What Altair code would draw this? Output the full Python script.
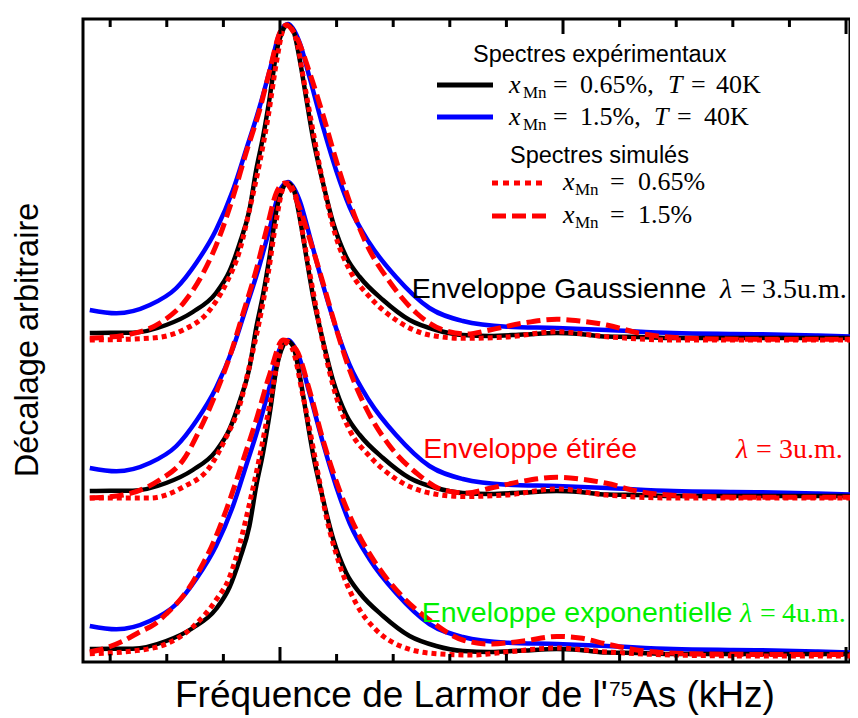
import altair as alt
import pandas as pd

# ---------------- data ----------------
# x: frequency (arbitrary kHz units, minor tick every 10), s: normalised signal
BLACK_X = [-33.6, -30.0, -26.0, -20.1, -15.4, -11.3, -8.9, -7.1, -5.4, -4.2, -3.0, -1.8, -0.65, 0.53, 1.24, 2.3, 3.5, 4.6, 5.8, 7.6, 9.4, 11.7, 14.1, 18.2, 22.9, 27.6, 32.3, 37.1, 43.0, 48.9, 53.0, 57.7, 63.6, 69.5, 78.0, 87.2, 95.0, 102.1]
BLACK_S = [0.07, 0.073, 0.073, 0.15, 0.28, 0.47, 0.69, 0.97, 1.30, 1.70, 2.03, 2.43, 2.87, 3.10, 3.15, 3.10, 2.80, 2.43, 2.03, 1.57, 1.17, 0.83, 0.63, 0.40, 0.20, 0.10, 0.05, 0.04, 0.055, 0.07, 0.06, 0.035, 0.03, 0.02, 0.02, 0.02, 0.02, 0.02]

BLUE_X = [-33.6, -28.9, -23.0, -18.3, -14.8, -11.3, -8.3, -6.0, -3.6, -1.8, -0.05, 1.41, 3.5, 5.2, 7.6, 9.9, 12.3, 15.8, 20.5, 26.4, 32.3, 40.1, 48.9, 57.7, 69.5, 80.0, 87.2, 95.0, 102.1]
BLUE_S = [0.30, 0.267, 0.35, 0.52, 0.77, 1.10, 1.50, 1.90, 2.33, 2.70, 3.07, 3.16, 2.97, 2.63, 2.13, 1.70, 1.33, 0.97, 0.63, 0.32, 0.19, 0.133, 0.12, 0.10, 0.07, 0.06, 0.055, 0.045, 0.033]

DASH_TOP_X = [-33.6, -27.2, -21.3, -17.1, -13.6, -10.7, -8.3, -6.0, -3.6, -1.8, -0.05, 1.1, 2.9, 5.2, 7.6, 9.9, 12.3, 15.2, 19.4, 24.1, 28.8, 33.0, 37.1, 43.0, 48.9, 53.0, 57.7, 63.6, 72.4, 85.0, 102.1]
DASH_TOP_S = [0.017, 0.05, 0.167, 0.367, 0.667, 1.03, 1.43, 1.87, 2.30, 2.70, 3.07, 3.15, 3.03, 2.68, 2.25, 1.80, 1.38, 0.97, 0.58, 0.27, 0.10, 0.06, 0.10, 0.17, 0.207, 0.19, 0.15, 0.067, 0.017, 0.007, 0.007]

DASH_MID_X = [-33.6, -27.7, -21.3, -17.1, -14.2, -11.3, -8.9, -6.5, -4.2, -2.4, -0.65, 0.83, 2.9, 5.2, 7.6, 9.9, 12.3, 15.2, 19.4, 24.1, 28.8, 33.0, 37.1, 43.0, 48.9, 53.0, 57.7, 63.6, 72.4, 85.0, 102.1]
DASH_MID_S = [0.0, 0.03, 0.18, 0.38, 0.68, 1.05, 1.41, 1.85, 2.28, 2.68, 3.05, 3.15, 2.98, 2.60, 2.15, 1.70, 1.28, 0.90, 0.52, 0.25, 0.08, 0.05, 0.097, 0.17, 0.207, 0.19, 0.147, 0.063, 0.02, 0.007, 0.007]

DASH_BOT_X = [-33.6, -31.3, -27.7, -24.8, -22.1, -20.1, -17.7, -15.95, -14.2, -11.5, -9.5, -6.5, -4.2, -1.8, 0.53, 2.9, 5.2, 7.6, 10.5, 13.5, 17.0, 21.7, 26.4, 32.3, 37.1, 43.0, 48.9, 53.0, 57.7, 63.6, 72.4, 85.0, 102.1]
DASH_BOT_S = [0.04, 0.07, 0.15, 0.24, 0.32, 0.42, 0.56, 0.69, 0.86, 1.17, 1.46, 1.96, 2.36, 2.82, 3.16, 3.06, 2.66, 2.16, 1.66, 1.26, 0.92, 0.59, 0.36, 0.16, 0.12, 0.15, 0.196, 0.18, 0.12, 0.056, 0.023, 0.016, 0.016]

DOT_TOP_X = [-33.6, -23.0, -17.1, -12.4, -9.5, -7.1, -5.4, -3.6, -2.1, -0.65, 0.53, 1.24, 2.9, 4.1, 5.8, 7.6, 9.9, 12.3, 15.8, 20.5, 26.4, 32.3, 40.0, 48.9, 57.7, 69.5, 85.0, 102.1]
DOT_TOP_S = [0.0, 0.017, 0.10, 0.30, 0.567, 0.90, 1.30, 1.77, 2.23, 2.77, 3.10, 3.15, 3.00, 2.63, 2.10, 1.57, 1.03, 0.70, 0.433, 0.20, 0.05, 0.017, 0.03, 0.083, 0.033, 0.0, 0.0, 0.0]
DOT_MID_S = [0.0, 0.0, 0.11, 0.31, 0.61, 0.93, 1.32, 1.78, 2.24, 2.78, 3.10, 3.15, 3.00, 2.62, 2.08, 1.55, 1.02, 0.68, 0.42, 0.19, 0.05, 0.015, 0.03, 0.09, 0.03, 0.0, 0.0, 0.0]

DOT_BOT_X = [-33.6, -26.0, -20.1, -15.4, -11.3, -8.9, -7.1, -5.4, -3.6, -1.8, -0.35, 0.53, 2.0, 4.1, 6.4, 8.2, 10.5, 13.5, 17.0, 21.7, 27.6, 34.0, 40.0, 48.9, 57.7, 69.5, 85.0, 102.1]
DOT_BOT_S = [0.023, 0.05, 0.12, 0.29, 0.56, 0.79, 1.12, 1.52, 1.99, 2.52, 2.96, 3.14, 3.09, 2.59, 1.92, 1.39, 0.92, 0.52, 0.26, 0.09, 0.023, 0.01, 0.04, 0.08, 0.04, 0.01, 0.0, 0.0]

GROUPS = ["top", "mid", "bot"]
OFFSETS = [3.22, 1.64, 0.06]

TICKS = [-30, -20, -10, 0, 10, 20, 30, 40, 50, 60, 70, 80, 90, 100]
MAJOR_TICKS = [0, 50, 100]

X_DOMAIN = [-34.8, 100.7]
Y_DOMAIN = [0, 6.43]

# ---------------- build table ----------------
rows = []
def add(series, group, off, xs, ss):
    for i, (xv, sv) in enumerate(zip(xs, ss)):
        rows.append({"series": series, "group": group, "i": i, "x": xv, "y": off + sv})

dash_sets = [(DASH_TOP_X, DASH_TOP_S), (DASH_MID_X, DASH_MID_S), (DASH_BOT_X, DASH_BOT_S)]
dot_sets = [(DOT_TOP_X, DOT_TOP_S), (DOT_TOP_X, DOT_MID_S), (DOT_BOT_X, DOT_BOT_S)]
for g, off, dset, oset in zip(GROUPS, OFFSETS, dash_sets, dot_sets):
    add("blue", g, off, BLUE_X, BLUE_S)
    add("black", g, off, BLACK_X, BLACK_S)
    add("dash", g, off, *dset)
    add("dot", g, off, *oset)
df = pd.DataFrame(rows)

tick_df = pd.DataFrame({"x": TICKS, "major": [t in MAJOR_TICKS for t in TICKS]})

X = alt.X("x:Q", scale=alt.Scale(domain=X_DOMAIN, nice=False, zero=False), axis=None)
Y = alt.Y("y:Q", scale=alt.Scale(domain=Y_DOMAIN, nice=False, zero=False), axis=None)

W, H = 767, 643

def line_layer(series, color, width, dash=None):
    kw = dict(color=color, strokeWidth=width, interpolate="monotone", clip=True, strokeCap="butt")
    if dash:
        kw["strokeDash"] = dash
    return (alt.Chart(df).transform_filter(alt.datum.series == series)
            .mark_line(**kw)
            .encode(x=X, y=Y, detail="group:N", order="i:Q"))

layers = [
    line_layer("blue", "#0000ff", 4.5),
    line_layer("black", "#000000", 4.5),
    line_layer("dash", "#ff0000", 5, [14, 6]),
    line_layer("dot", "#ff0000", 5, [5, 4]),
]

# inward ticks (bottom and top)
def tick_layer(major, y0, y1):
    return (alt.Chart(tick_df).transform_filter(alt.datum.major == major)
            .mark_rule(color="black", strokeWidth=3)
            .encode(x=X, y=alt.value(y0), y2=alt.value(y1)))

layers += [
    tick_layer(False, H, H - 8), tick_layer(True, H, H - 15),
    tick_layer(False, 0, 8), tick_layer(True, 0, 15),
]

one = pd.DataFrame({"a": [0]})
SANS = "Liberation Sans"
SERIF = "Liberation Serif"

def txt(s, px, py, size, font=SANS, color="black", style="normal", align="left", angle=0):
    return (alt.Chart(one).mark_text(fontSize=size, font=font, color=color, fontStyle=style,
                                     align=align, baseline="alphabetic", angle=angle)
            .encode(x=alt.value(px), y=alt.value(py), text=alt.value(s)))

def swatch(x0, x1, y, color, dash=None):
    kw = dict(color=color, strokeWidth=5, strokeCap="butt")
    if dash:
        kw["strokeDash"] = dash
    return alt.Chart(one).mark_rule(**kw).encode(x=alt.value(x0), x2=alt.value(x1), y=alt.value(y))

OX, OY = 83, 19  # plot origin on the page
def P(px, py):
    return px - OX, py - OY

texts = []
# axis titles
x0, y0 = P(38, 340)
texts.append(txt("Décalage arbitraire", x0, y0, 32.5, angle=270, align="center"))
x0, y0 = P(175, 707)
texts.append(txt("Fréquence de Larmor de l'", x0, y0, 37))
x0, y0 = P(609, 696)
texts.append(txt("75", x0, y0, 21))
x0, y0 = P(633, 707)
texts.append(txt("As (kHz)", x0, y0, 37))

# legend
def math_line(px_x, px_mn, base, pieces):
    out = []
    a, b = P(px_x, base)
    out.append(txt("x", a, b, 26, SERIF, style="italic"))
    a, b = P(px_mn, base + 5)
    out.append(txt("Mn", a, b, 17, SERIF))
    for s, px, it in pieces:
        a, b = P(px, base)
        out.append(txt(s, a, b, 26, SERIF, style="italic" if it else "normal"))
    return out

a, b = P(473, 62)
texts.append(txt("Spectres expérimentaux", a, b, 23.5))
texts += math_line(509, 523, 93, [("=", 553, False), ("0.65%,", 580, False), ("T", 668, True), ("=", 691, False), ("40K", 716, False)])
texts += math_line(509, 523, 125, [("=", 553, False), ("1.5%,", 580, False), ("T", 654, True), ("=", 677, False), ("40K", 704, False)])
a, b = P(510, 163)
texts.append(txt("Spectres simulés", a, b, 23.5))
texts += math_line(563, 575, 190, [("=", 610, False), ("0.65%", 638, False)])
texts += math_line(563, 575, 223, [("=", 610, False), ("1.5%", 638, False)])

sw = []
a1, b1 = P(437, 85); a2, _ = P(493, 85)
sw.append(swatch(a1, a2, b1, "#000000"))
a1, b1 = P(437, 117); a2, _ = P(493, 117)
sw.append(swatch(a1, a2, b1, "#0000ff"))
a1, b1 = P(492, 183); a2, _ = P(545, 183)
sw.append(swatch(a1, a2, b1, "#ff0000", [6, 5]))
a1, b1 = P(492, 216); a2, _ = P(546, 216)
sw.append(swatch(a1, a2, b1, "#ff0000", [14, 6]))

# group labels
GREEN = "#00f000"
def group_label(label, lx, base, color, lam_x, eq_x, val, val_x):
    out = []
    a, b = P(lx, base)
    out.append(txt(label, a, b, 28.5, SANS, color=color))
    a, b = P(lam_x, base)
    out.append(txt("λ", a, b, 28, SERIF, color=color, style="italic"))
    a, b = P(eq_x, base)
    out.append(txt("=", a, b, 28, SERIF, color=color))
    a, b = P(val_x, base)
    out.append(txt(val, a, b, 28, SERIF, color=color))
    return out

texts += group_label("Enveloppe Gaussienne", 411.7, 298, "black", 720, 740, "3.5u.m.", 762)
texts += group_label("Enveloppe étirée", 423.3, 458, "#ff0000", 736, 756, "3u.m.", 779)
texts += group_label("Enveloppe exponentielle", 421.7, 622, GREEN, 740, 760, "4u.m.", 782)

chart = alt.layer(*layers, *sw, *texts).properties(
    width=W, height=H,
    autosize=alt.AutoSizeParams(type="none"),
    padding={"left": 75, "top": 11, "right": 0, "bottom": 56},
).configure_view(stroke="black", strokeWidth=3)

chart.save("out.html", embed_options={"renderer": "svg", "actions": False})
